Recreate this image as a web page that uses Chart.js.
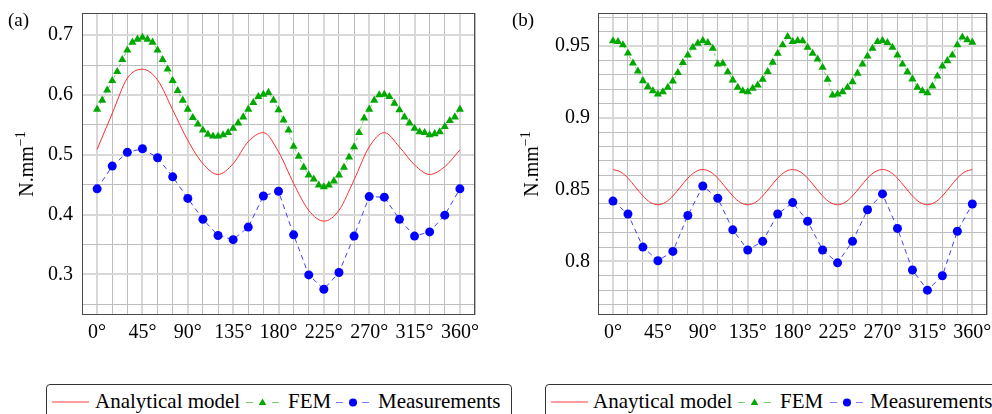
<!DOCTYPE html>
<html><head><meta charset="utf-8">
<script src="https://cdn.jsdelivr.net/npm/chart.js@4.4.1/dist/chart.umd.min.js"></script>
<style>
html,body{margin:0;padding:0;background:#fff;}
body{width:992px;height:414px;overflow:hidden;position:relative;font-family:"Liberation Serif","Times New Roman",serif;color:#000;}
canvas{position:absolute;top:0;}
#ca{left:0;} #cb{left:496px;}
.plabel{position:absolute;font-size:19px;line-height:19px;top:10px;}
.ytitle{position:absolute;width:100px;height:24px;line-height:24px;font-size:20px;text-align:center;transform:rotate(-90deg);transform-origin:50% 50%;white-space:nowrap;}
.ytitle span{font-size:14px;position:relative;top:-8px;}
.legend{position:absolute;top:384px;height:40px;border:1px solid #333;border-radius:4px;background:#fff;box-sizing:border-box;}
.li{position:absolute;top:5px;font-size:21px;line-height:22px;white-space:nowrap;}
.ls{position:absolute;top:11px;}
</style></head><body>
<canvas id="ca" width="496" height="372" style="width:496px;height:372px"></canvas>
<canvas id="cb" width="496" height="372" style="width:496px;height:372px"></canvas>
<div class="plabel" style="left:8px">(a)</div>
<div class="plabel" style="left:512px">(b)</div>
<div class="ytitle" style="left:-24px;top:152px">N.mm<span>−1</span></div>
<div class="ytitle" style="left:481px;top:152px">N.mm<span>−1</span></div>

<div class="legend" style="left:46px;width:466px">
  <svg class="ls" style="left:5px" width="37" height="12"><line x1="0" y1="6" x2="37" y2="6" stroke="rgb(255,60,60)" stroke-width="1"/></svg>
  <span class="li" style="left:48px">Analytical model</span>
  <svg class="ls" style="left:199px" width="33" height="12"><line x1="0" y1="6.5" x2="7" y2="6.5" stroke="rgba(0,170,0,0.55)" stroke-width="1"/><line x1="26" y1="6.5" x2="33" y2="6.5" stroke="rgba(0,170,0,0.55)" stroke-width="1"/><polygon points="16.5,2.5 20.3,9 12.7,9" fill="#00a800"/></svg>
  <span class="li" style="left:241px">FEM</span>
  <svg class="ls" style="left:289px" width="33" height="12"><line x1="0" y1="6.5" x2="7" y2="6.5" stroke="rgba(40,40,255,0.6)" stroke-width="1"/><line x1="26" y1="6.5" x2="33" y2="6.5" stroke="rgba(40,40,255,0.6)" stroke-width="1"/><circle cx="17" cy="6.5" r="4" fill="#0000ff"/></svg>
  <span class="li" style="left:331px">Measurements</span>
</div>
<div class="legend" style="left:545px;width:460px">
  <svg class="ls" style="left:5px" width="37" height="12"><line x1="0" y1="6" x2="37" y2="6" stroke="rgb(255,60,60)" stroke-width="1"/></svg>
  <span class="li" style="left:47px">Anaytical model</span>
  <svg class="ls" style="left:192px" width="33" height="12"><line x1="0" y1="6.5" x2="7" y2="6.5" stroke="rgba(0,170,0,0.55)" stroke-width="1"/><line x1="26" y1="6.5" x2="33" y2="6.5" stroke="rgba(0,170,0,0.55)" stroke-width="1"/><polygon points="16.5,2.5 20.3,9 12.7,9" fill="#00a800"/></svg>
  <span class="li" style="left:234px">FEM</span>
  <svg class="ls" style="left:284px" width="33" height="12"><line x1="0" y1="6.5" x2="7" y2="6.5" stroke="rgba(40,40,255,0.6)" stroke-width="1"/><line x1="26" y1="6.5" x2="33" y2="6.5" stroke="rgba(40,40,255,0.6)" stroke-width="1"/><circle cx="17" cy="6.5" r="4" fill="#0000ff"/></svg>
  <span class="li" style="left:324px">Measurements</span>
</div>

<script>
// ---------- data ----------
const anglesFem = [0,5,10,15,20,25,30,35,40,45,50,55,60,65,70,75,80,85,90,95,100,105,110,115,120,125,130,135,140,145,150,155,160,165,170,175,180,185,190,195,200,205,210,215,220,225,230,235,240,245,250,255,260,265,270,275,280,285,290,295,300,305,310,315,320,325,330,335,340,345,350,355,360];
const anglesMeas = [0,15,30,45,60,75,90,105,120,135,150,165,180,195,210,225,240,255,270,285,300,315,330,345,360];
const anglesModelA = [0,15,30,45,60,75,90,105,120,135,150,165,180,195,210,225,240,255,270,285,300,315,330,345,360];
const anglesModelB = [0,7.5,15,22.5,30,37.5,45,52.5,60,67.5,75,82.5,90,97.5,105,112.5,120,127.5,135,142.5,150,157.5,165,172.5,180,187.5,195,202.5,210,217.5,225,232.5,240,247.5,255,262.5,270,277.5,285,292.5,300,307.5,315,322.5,330,337.5,345,352.5,360];

const modelA = [0.509,0.569,0.628,0.643,0.625,0.575,0.524,0.485,0.467,0.485,0.522,0.537,0.505,0.452,0.407,0.389,0.407,0.458,0.513,0.537,0.513,0.483,0.467,0.480,0.508];
const femA = [0.576,0.591,0.608,0.624,0.639,0.659,0.675,0.688,0.693,0.696,
  0.693,0.688,0.675,0.659,0.643,0.624,0.607,0.591,0.576,0.562,
  0.551,0.541,0.534,0.531,0.531,0.533,0.537,0.544,0.553,0.563,
  0.576,0.587,0.597,0.601,0.604,0.591,0.575,0.558,0.541,0.514,
  0.497,0.479,0.466,0.459,0.449,0.446,0.449,0.456,0.466,0.479,
  0.496,0.513,0.537,0.561,0.576,0.591,0.600,0.601,0.597,0.586,
  0.575,0.563,0.553,0.544,0.538,0.537,0.533,0.535,0.538,0.547,
  0.557,0.563,0.576];
const measA = [0.443,0.481,0.504,0.510,0.495,0.463,0.427,0.392,0.365,0.358,0.379,0.431,0.439,0.366,0.299,0.275,0.303,0.364,0.430,0.429,0.392,0.364,0.371,0.399,0.443];

const modelB = [0.864,0.8624,0.858,0.8518,0.8456,0.8411,0.8395,0.8411,0.8456,0.8518,0.858,0.8624,
  0.864,0.8624,0.858,0.8518,0.8456,0.8411,0.8395,0.8411,0.8456,0.8518,0.858,0.8624,
  0.864,0.8624,0.858,0.8518,0.8456,0.8411,0.8395,0.8411,0.8456,0.8518,0.858,0.8624,
  0.864,0.8624,0.858,0.8518,0.8456,0.8411,0.8395,0.8411,0.8456,0.8518,0.858,0.8624,
  0.864];
const femB = [0.9535,0.953,0.9507,0.945,0.938,0.9325,0.9258,0.9216,0.9188,0.9165,
  0.918,0.9212,0.9256,0.9314,0.9384,0.9437,0.949,0.9519,0.9537,0.9523,
  0.9484,0.9374,0.9379,0.932,0.9263,0.9212,0.9188,0.918,0.9205,0.9228,
  0.9268,0.9321,0.9386,0.9449,0.9507,0.9565,0.953,0.9537,0.9535,0.949,
  0.9449,0.9409,0.9351,0.9268,0.9158,0.9165,0.918,0.9212,0.9251,0.931,
  0.9374,0.943,0.9484,0.953,0.9537,0.9523,0.949,0.9437,0.9374,0.932,
  0.927,0.9212,0.9188,0.9174,0.922,0.929,0.936,0.9397,0.9437,0.9507,
  0.9561,0.9542,0.9526];
const measB = [0.842,0.833,0.810,0.8005,0.807,0.832,0.8525,0.844,0.822,0.808,0.814,0.833,0.841,0.828,0.808,0.799,0.814,0.836,0.847,0.823,0.794,0.780,0.790,0.821,0.840];

const xTickValues = [0,45,90,135,180,225,270,315,360];
const xTickLabels = ['0°','45°','90°','135°','180°','225°','270°','315°','360°'];
const yTickValuesA = [0.3,0.4,0.5,0.6,0.7];
const yTickLabelsA = ['0.3','0.4','0.5','0.6','0.7'];
const yTickValuesB = [0.8,0.85,0.9,0.95];
const yTickLabelsB = ['0.8','0.85','0.9','0.95'];

// ---------- helpers ----------
const pts = (xs, ys) => xs.map((x, i) => ({x, y: ys[i]}));
const FONT = '"Liberation Serif","Times New Roman",serif';
Chart.defaults.font.family = FONT;
Chart.defaults.color = '#000';

function gridTicks(min, max, step) {
  const out = [];
  for (let v = min; v <= max + 1e-9; v += step) out.push({value: Math.round(v * 10000) / 10000});
  return out;
}
const isIn = (v, arr) => arr.some(a => Math.abs(a - v) < 1e-6);
const labelOf = (v, vals, labs) => { const i = vals.findIndex(a => Math.abs(a - v) < 1e-6); return i < 0 ? '' : labs[i]; };

const frame = {
  id: 'frame',
  afterDatasetsDraw(chart) {
    const {ctx, chartArea: a} = chart;
    ctx.save();
    ctx.strokeStyle = '#4a4a4a';
    ctx.lineWidth = 1;
    ctx.strokeRect(Math.round(a.left) + 0.5, Math.round(a.top) + 0.5, Math.round(a.right - a.left) - 1, Math.round(a.bottom - a.top) - 1);
    ctx.restore();
  }
};

function makeChart(id, o) {
  const datasets = [
    {label: 'Measurements', data: pts(anglesMeas, o.meas), showLine: true,
     borderColor: 'rgba(30,30,255,0.85)', borderWidth: 1, borderDash: [5,4],
     pointStyle: 'circle', pointRadius: 4.5, pointBackgroundColor: '#0000ff', pointBorderWidth: 0, tension: 0},
    {label: 'FEM', data: pts(anglesFem, o.fem), showLine: true,
     borderColor: 'rgba(0,170,0,0.55)', borderWidth: 1, borderDash: [3,3],
     pointStyle: 'triangle', pointRadius: 4.7, pointBackgroundColor: '#00a800', pointBorderWidth: 0, tension: 0},
    {label: o.modelLabel, data: pts(o.modelX, o.model), showLine: true,
     borderColor: 'rgb(255,45,45)', borderWidth: 1, pointRadius: 0, cubicInterpolationMode: 'monotone'}
  ];
  return new Chart(document.getElementById(id), {
    type: 'line',
    data: {datasets},
    plugins: [frame],
    options: {
      responsive: false, animation: false, devicePixelRatio: 1,
      layout: {padding: {left: 0, top: 13, right: o.padRight, bottom: 0}},
      plugins: {legend: {display: false}, tooltip: {enabled: false}},
      scales: {
        x: {
          type: 'linear', min: -15, max: 375,
          afterBuildTicks: s => { s.ticks = gridTicks(-15, 375, 15); },
          afterFit: s => { s.height = 57; s.paddingLeft = 0; s.paddingRight = 0; },
          border: {display: false},
          grid: {
            drawTicks: false,
            color: c => (c.tick && isIn(c.tick.value, xTickValues)) ? '#d8d8d8' : '#bdbdbd',
            lineWidth: c => (c.tick && isIn(c.tick.value, xTickValues)) ? 2 : 1
          },
          ticks: {autoSkip: false, maxRotation: 0, padding: 6, font: {size: 20, family: FONT}, color: '#000',
                  callback: v => labelOf(v, xTickValues, xTickLabels)}
        },
        y: {
          type: 'linear', min: o.ymin, max: o.ymax,
          afterBuildTicks: s => { s.ticks = gridTicks(o.gmin, o.gmax, o.gstep); },
          afterFit: s => { s.width = o.yWidth; s.paddingTop = 0; s.paddingBottom = 0; },
          border: {display: false},
          grid: {
            drawTicks: false,
            color: c => (c.tick && isIn(c.tick.value, o.yVals)) ? '#d8d8d8' : '#bdbdbd',
            lineWidth: c => (c.tick && isIn(c.tick.value, o.yVals)) ? 2 : 1
          },
          ticks: {autoSkip: false, padding: o.yPad, font: {size: 20, family: FONT}, color: '#000',
                  callback: v => labelOf(v, o.yVals, o.yLabs)}
        }
      }
    }
  });
}

makeChart('ca', {meas: measA, fem: femA, model: modelA, modelX: anglesModelA, modelLabel: 'Analytical model',
  ymin: 0.232, ymax: 0.737, gmin: 0.25, gmax: 0.70, gstep: 0.05,
  yVals: yTickValuesA, yLabs: yTickLabelsA, yWidth: 82, yPad: 9, padRight: 21});
makeChart('cb', {meas: measB, fem: femB, model: modelB, modelX: anglesModelB, modelLabel: 'Anaytical model',
  ymin: 0.7627, ymax: 0.973, gmin: 0.77, gmax: 0.97, gstep: 0.01,
  yVals: yTickValuesB, yLabs: yTickLabelsB, yWidth: 102, yPad: 8, padRight: 0});
</script>
</body></html>
